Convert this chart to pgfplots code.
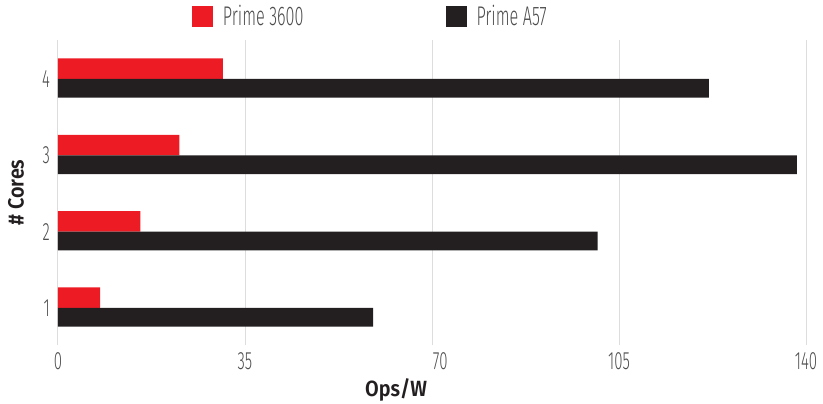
\documentclass[border=0pt]{standalone}
\usepackage{pgfplots}
\pgfplotsset{compat=1.18}
\usepackage{fontspec}
\setmainfont{Fira Sans Light}[FakeStretch=0.6]
\newfontfamily\boldf{Fira Sans SemiBold}[FakeStretch=0.9]
\definecolor{pred}{HTML}{ED1C24}
\definecolor{pblk}{HTML}{231F20}
\definecolor{txt}{HTML}{4D4D4D}
\definecolor{grd}{HTML}{DDDDDD}
\begin{document}
\begin{tikzpicture}
\path[use as bounding box] (-58bp,-59bp) rectangle (765bp,345bp);
\begin{axis}[
  at={(0,0)}, anchor=south west, scale only axis,
  width=748bp, height=305bp,
  xmin=0, xmax=140, ymin=0.515, ymax=4.511,
  xbar,
  axis line style={draw=none},
  major tick length=0pt,
  xtick={0,35,70,105,140},
  xticklabels={0,35,\phantom{00}70,105,140},
  ytick={1,2,3,4},
  xmajorgrids, grid style={grd, line width=1bp},
  /pgf/number format/assume math mode=true,
  tick label style={font=\fontsize{25bp}{30bp}\selectfont, text=txt, inner sep=0pt},
  xticklabel style={yshift=-7.7bp},
  yticklabel style={xshift=-8bp},
  xlabel={\boldf Ops/W},
  xlabel style={at={(axis description cs:0.452,-0.1082)}, anchor=north, inner sep=0pt,
    font=\fontsize{22bp}{26bp}\selectfont, text=pblk},
  ylabel={\boldf \# Cores},
  ylabel style={at={(axis description cs:-0.05615,0.5)}, anchor=center, inner sep=0pt,
    font=\fontsize{22bp}{26bp}\selectfont, text=pblk},
  legend columns=2,
  legend image code/.code={\fill[#1] (0bp,-10.5bp) rectangle (21bp,10.5bp);},
  legend style={at={(0.17914,1.077)}, anchor=west, draw=none, fill=none,
    inner sep=0pt, outer sep=0pt,
    font=\fontsize{27bp}{32bp}\selectfont, text=txt,
    nodes={inner sep=0pt},
    /tikz/every odd column/.append style={column sep=10bp},
    /tikz/every even column/.append style={column sep=142bp}},
  legend cell align=left,
]
\addplot[fill=pred, draw=none, bar width=20.5bp, bar shift=10.25bp]
  coordinates {(7.9,1) (15.4,2) (22.7,3) (30.85,4)};
\addplot[fill=pblk, draw=none, bar width=18.7bp, bar shift=-9.35bp]
  coordinates {(59,1) (101,2) (138.3,3) (121.8,4)};
\legend{Prime 3600, Prime A57}
\end{axis}
\end{tikzpicture}
\end{document}
